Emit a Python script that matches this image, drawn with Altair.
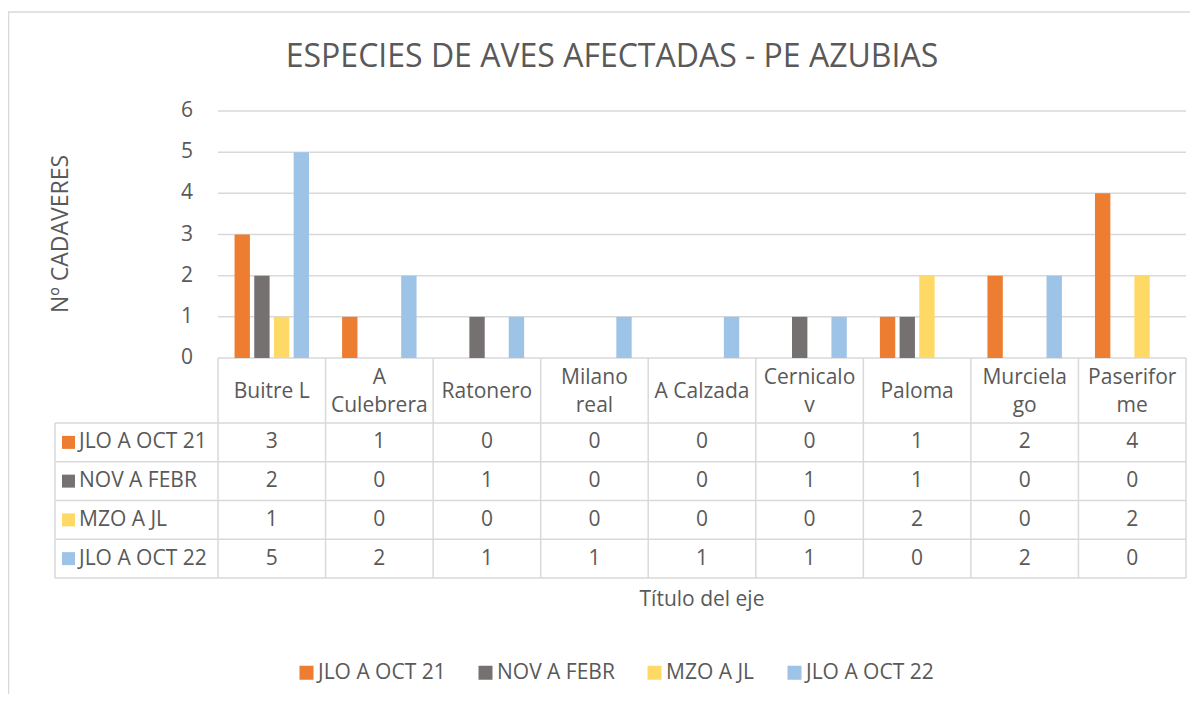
import altair as alt
import pandas as pd

# ---------------- data ----------------
categories = ["Buitre L", "A Culebrera", "Ratonero", "Milano real", "A Calzada",
              "Cernicalo v", "Paloma", "Murcielago", "Paseriforme"]
cat_labels = ["Buitre L", "A\nCulebrera", "Ratonero", "Milano\nreal", "A Calzada",
              "Cernicalo\nv", "Paloma", "Murciela\ngo", "Paserifor\nme"]
series = ["JLO A OCT 21", "NOV A FEBR", "MZO A JL", "JLO A OCT 22"]
jlo_oct_21 = [3, 1, 0, 0, 0, 0, 1, 2, 4]
nov_febr = [2, 0, 1, 0, 0, 1, 1, 0, 0]
mzo_jl = [1, 0, 0, 0, 0, 0, 2, 0, 2]
jlo_oct_22 = [5, 2, 1, 1, 1, 1, 0, 2, 0]
y_ticks = [0, 1, 2, 3, 4, 5, 6]
colors = ["#ED7D31", "#767171", "#FFD966", "#9DC3E6"]

TITLE = "ESPECIES DE AVES AFECTADAS - PE AZUBIAS"
Y_TITLE = "Nº CADAVERES"
X_TITLE = "Título del eje"

# ---------------- layout (chart pixel coords) ----------------
FONT = "Open Sans"
TXT = "#595959"
GRID = "#D9D9D9"
X_COL = 47          # left edge of table header column
X0, X1 = 210, 1178  # plot area / category columns
Y_TOP, Y_ZERO = 103, 350
Y_CAT_BOTTOM = 415
Y_TABLE_BOTTOM = 570
FS = 21
LINE_H = 28

values = [jlo_oct_21, nov_febr, mzo_jl, jlo_oct_22]
rows = []
for s, vals in zip(series, values):
    for c, v in zip(categories, vals):
        rows.append({"cat": c, "series": s, "value": v})
df = pd.DataFrame(rows)
cat_df = pd.DataFrame({"cat": categories, "label": cat_labels})
cat_df["lines"] = cat_df["label"].str.count("\n") + 1
tick_df = pd.DataFrame({"t": y_ticks})
ser_df = pd.DataFrame({"series": series})

xcat_scale = alt.Scale(domain=categories, range=[X0, X1], paddingInner=0, paddingOuter=0)
yval_scale = alt.Scale(domain=[0, 6], range=[Y_ZERO, Y_TOP], nice=False, zero=True)
yrow_scale = alt.Scale(domain=series, range=[Y_CAT_BOTTOM, Y_TABLE_BOTTOM],
                       paddingInner=0, paddingOuter=0)

color_enc = alt.Color(
    "series:N",
    scale=alt.Scale(domain=series, range=colors),
    legend=alt.Legend(
        orient="none", legendX=288, legendY=654, direction="horizontal",
        title=None, symbolType="square", symbolSize=196, symbolStrokeWidth=0,
        labelFont=FONT, labelFontSize=FS, labelColor=TXT, labelOffset=1,
        columnPadding=29, padding=0,
    ),
)

line_style = dict(color=GRID, strokeWidth=1.5)

# gridlines
grid = alt.Chart(tick_df).mark_rule(**line_style).encode(
    y=alt.Y("t:Q", scale=yval_scale, axis=None),
    x=alt.value(X0), x2=alt.value(X1),
)

# y tick labels
ylabels = alt.Chart(tick_df).mark_text(
    font=FONT, fontSize=FS, color=TXT, align="right", baseline="middle"
).encode(
    y=alt.Y("t:Q", scale=yval_scale, axis=None),
    x=alt.value(185),
    text="t:Q",
)

# bars
bars = alt.Chart(df).mark_bar().encode(
    x=alt.X("cat:N", scale=xcat_scale, axis=None, sort=categories),
    xOffset=alt.XOffset("series:N", scale=alt.Scale(domain=series, paddingInner=0.22, paddingOuter=0.84)),
    y=alt.Y("value:Q", scale=yval_scale, axis=None),
    color=color_enc,
)

# table vertical lines at category boundaries
vlines = alt.Chart(cat_df).mark_rule(**line_style).encode(
    x=alt.X("cat:N", scale=xcat_scale, axis=None, bandPosition=0),
    y=alt.value(Y_ZERO), y2=alt.value(Y_TABLE_BOTTOM),
)
right_edge = alt.Chart(cat_df.tail(1)).mark_rule(**line_style).encode(
    x=alt.X("cat:N", scale=xcat_scale, axis=None, bandPosition=1),
    y=alt.value(Y_ZERO), y2=alt.value(Y_TABLE_BOTTOM),
)
left_col = alt.Chart(ser_df.head(1)).mark_rule(**line_style).encode(
    x=alt.value(X_COL), y=alt.value(Y_CAT_BOTTOM), y2=alt.value(Y_TABLE_BOTTOM),
)
# table horizontal lines (row boundaries)
hl_top = alt.Chart(ser_df).mark_rule(**line_style).encode(
    y=alt.Y("series:N", scale=yrow_scale, axis=None, bandPosition=0),
    x=alt.value(X_COL), x2=alt.value(X1),
)
hl_bottom = alt.Chart(ser_df.tail(1)).mark_rule(**line_style).encode(
    y=alt.Y("series:N", scale=yrow_scale, axis=None, bandPosition=1),
    x=alt.value(X_COL), x2=alt.value(X1),
)

# category labels (one-line and two-line, vertically centred in the cell)
cat_mid = (Y_ZERO + Y_CAT_BOTTOM) / 2 + 1
cat_text_1 = alt.Chart(cat_df).transform_filter("datum.lines == 1").mark_text(
    font=FONT, fontSize=FS, color=TXT, align="center", baseline="middle"
).encode(
    x=alt.X("cat:N", scale=xcat_scale, axis=None, bandPosition=0.5),
    y=alt.value(cat_mid),
    text="label:N",
)
cat_text_2 = alt.Chart(cat_df).transform_filter("datum.lines == 2").mark_text(
    font=FONT, fontSize=FS, color=TXT, align="center", baseline="middle",
    lineBreak="\n", lineHeight=LINE_H, dy=-LINE_H / 2
).encode(
    x=alt.X("cat:N", scale=xcat_scale, axis=None, bandPosition=0.5),
    y=alt.value(cat_mid),
    text="label:N",
)

# table values
val_text = alt.Chart(df).mark_text(
    font=FONT, fontSize=FS, color=TXT, align="center", baseline="middle"
).encode(
    x=alt.X("cat:N", scale=xcat_scale, axis=None, bandPosition=0.5),
    y=alt.Y("series:N", scale=yrow_scale, axis=None, bandPosition=0.5),
    text="value:Q",
)

# row header keys and labels
keys = alt.Chart(ser_df).mark_point(shape="square", filled=True, size=169, opacity=1).encode(
    x=alt.value(X_COL + 13.5),
    y=alt.Y("series:N", scale=yrow_scale, axis=None, bandPosition=0.5),
    color=color_enc,
)
row_text = alt.Chart(ser_df).mark_text(
    font=FONT, fontSize=FS, color=TXT, align="left", baseline="middle"
).encode(
    x=alt.value(X_COL + 24),
    y=alt.Y("series:N", scale=yrow_scale, axis=None, bandPosition=0.5),
    text="series:N",
)

# titles
title = alt.Chart(pd.DataFrame({"t": [TITLE]})).mark_text(
    font=FONT, fontSize=32, color=TXT, align="center", baseline="middle"
).encode(x=alt.value(604), y=alt.value(49), text="t:N")
ytitle = alt.Chart(pd.DataFrame({"t": [Y_TITLE]})).mark_text(
    font=FONT, fontSize=23, color=TXT, align="center", baseline="middle", angle=270
).encode(x=alt.value(53), y=alt.value(226), text="t:N")
xtitle = alt.Chart(pd.DataFrame({"t": [X_TITLE]})).mark_text(
    font=FONT, fontSize=FS, color=TXT, align="center", baseline="middle"
).encode(x=alt.value(694), y=alt.value(592), text="t:N")

# outer frame (top and left edges visible)
frame_top = alt.Chart(pd.DataFrame({"t": [0]})).mark_rule(**line_style).encode(
    x=alt.value(0), x2=alt.value(1182), y=alt.value(4))
frame_left = alt.Chart(pd.DataFrame({"t": [0]})).mark_rule(**line_style).encode(
    x=alt.value(0.5), y=alt.value(4), y2=alt.value(686))

chart = alt.layer(
    frame_top, frame_left, grid, ylabels, bars, vlines, right_edge, left_col, hl_top, hl_bottom,
    cat_text_1, cat_text_2, val_text, keys, row_text, title, ytitle, xtitle,
).resolve_scale(x="independent", y="independent").properties(
    width=1182, height=686,
    autosize=alt.AutoSizeParams(type="none"),
    padding=0,
    background="white",
).configure_view(strokeWidth=0)

chart.save("out.html", embed_options={"renderer": "svg", "actions": False})
